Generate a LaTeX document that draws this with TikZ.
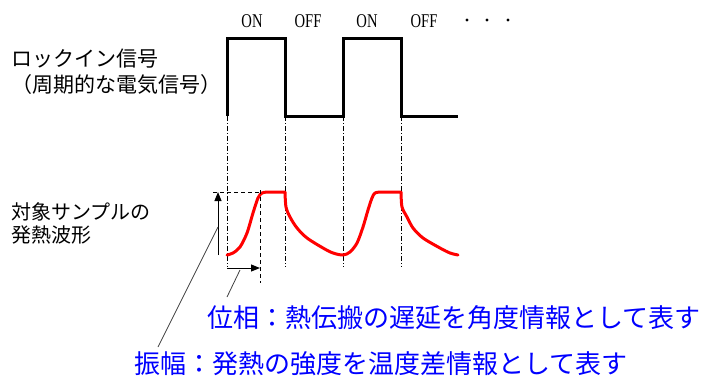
\documentclass[tikz,border=0pt]{standalone}
\usepackage{fontspec}
\setmainfont{Liberation Serif}
\newfontfamily\jpfont{Noto Sans CJK JP}
\usetikzlibrary{arrows.meta}

\begin{document}
\begin{tikzpicture}[
  x=1pt, y=-1pt,
  caption/.style={anchor=west, inner sep=0pt, align=left, font=\jpfont\fontsize{20}{23}\selectfont},
  remark/.style={anchor=west, inner sep=0pt, text=blue, font=\jpfont\fontsize{26}{26}\selectfont},
  onoff/.style={inner sep=0pt, font=\fontsize{19.5}{19.5}\selectfont},
  wave/.style={line width=3pt, line join=miter},
  heat/.style={line width=3pt, red, line join=round, line cap=round},
  guide/.style={line width=0.8pt, dash pattern=on 5pt off 2pt on 1pt off 2pt},
  aux/.style={line width=0.8pt, dash pattern=on 4pt off 3pt},
  arrow/.style={line width=1pt, -{Triangle[length=9pt, width=7pt]}},
  leader/.style={line width=0.8pt, black!75}
]
\useasboundingbox (0,0) rectangle (704,376);

% labels on the left
\node[caption, font=\jpfont\fontsize{21}{26}\selectfont] (lockin) at (11,72)
  {ロックイン信号\\（周期的な電気信号）};
\node[caption] (sample) at (11,223) {対象サンプルの\\発熱波形};

% lock-in signal
\draw[wave] (227,116) -- (227,38) -- (285,38) -- (285,116) -- (343,116)
  -- (343,38) -- (401,38) -- (401,116) -- (458,116);
\foreach \x/\t/\n in {252/ON/on1, 308/OFF/off1, 367/ON/on2, 424/OFF/off2}
  \node[onoff] (\n) at (\x,21) {\scalebox{0.75}[1]{\t}};
\foreach \x in {467,487,508}
  \fill (\x,20) circle (1.7);

\foreach \x in {227,285,343,401}
  \draw[guide] (\x,116) -- (\x,267);

% heating waveform
\draw[heat] plot[smooth, tension=0.5] coordinates {(227,255) (233,253) (240,247)
    (247,233) (253,213) (258,198) (262,193) (268,192)}
  -- plot[smooth, tension=0.5] coordinates {(285,192) (286,207) (290,217) (297,228)
    (307,238) (323,248) (333,253) (343,255) (350,252) (357,243) (363,227) (368,210)
    (372,198) (375,193) (381,192)}
  -- plot[smooth, tension=0.5] coordinates {(401,192) (402,207) (407,217) (413,228)
    (423,238) (440,248) (450,253) (458,255)};

\draw[aux] (213,192) -- (260,192);
\draw[aux] (260,190) -- (260,283);

% amplitude and phase
\coordinate (amplow) at (218,255);
\coordinate (amptop) at (218,192);
\coordinate (phs0) at (227,268);
\coordinate (phs1) at (260,268);
\draw[arrow] (amplow) -- (amptop);
\draw[arrow] (phs0) -- (phs1);

\node[remark] (phase) at (207,318) {位相：熱伝搬の遅延を角度情報として表す};
\node[remark] (amp) at (134,364) {振幅：発熱の強度を温度差情報として表す};

\coordinate (phsfoot) at (227,297);
\coordinate (phsmid) at (240,270);
\coordinate (ampfoot) at (158,347);
\coordinate (ampmid) at (218,227);
\draw[leader] (phsfoot) -- (phsmid);
\draw[leader] (ampfoot) -- (ampmid);

\end{tikzpicture}
\end{document}
